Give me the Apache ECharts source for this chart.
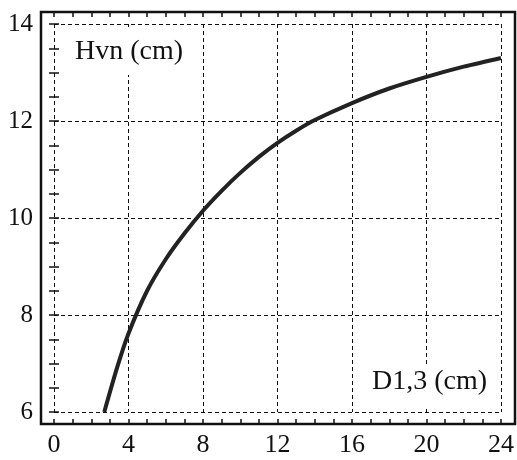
<!DOCTYPE html>
<html>
<head>
<meta charset="utf-8">
<script src="https://cdn.jsdelivr.net/npm/echarts@6/dist/echarts.min.js"></script>
<style>
  html, body { margin: 0; padding: 0; background: #fff; }
  #chart { width: 517px; height: 460px; }
</style>
</head>
<body>
<div id="chart"></div>
<script>
  "use strict";

  // diameter D1,3 (cm) and height Hvn (cm)
  var diameters = [2.7, 3.4, 4, 5, 6, 7, 8, 9, 10, 11, 12, 13, 14, 16, 18, 20, 22, 24];
  var heights = [6.0, 6.93, 7.62, 8.5, 9.15, 9.68, 10.15, 10.56, 10.93, 11.26, 11.55, 11.8, 12.02, 12.37, 12.67, 12.91, 13.12, 13.3];

  var xTicks = [0, 4, 8, 12, 16, 20, 24];
  var yTicks = [6, 8, 10, 12, 14];

  var yTitle = 'Hvn (cm)';
  var xTitle = 'D1,3 (cm)';

  (function (echarts) {
    var FONT = '"Liberation Serif", "Times New Roman", serif'
      , INK = '#111'
      , element = document.getElementById('chart');

    var points = diameters.map(function (d, i) {
      return [d, heights[i]];
    });

    function tickAxis(position, range, step, offset, labels, fontSize) {
      return {
        type: 'value',
        position: position,
        min: range[0],
        max: range[range.length - 1],
        interval: step,
        offset: offset,
        axisLine: { show: false },
        axisTick: { show: true, inside: true, length: 5, lineStyle: { color: INK, width: 1.5 } },
        minorTick: { show: true, splitNumber: 4, length: 5, lineStyle: { color: INK, width: 1.5 } },
        axisLabel: {
          show: labels,
          margin: 8,
          color: INK,
          fontFamily: FONT,
          fontSize: fontSize
        },
        splitLine: {
          show: labels,
          lineStyle: { color: INK, width: 1, type: [4, 3] }
        }
      };
    }

    var instance = echarts.init(element, null, { renderer: 'canvas' });

    instance.setOption({
      animation: false,
      backgroundColor: '#fff',
      grid: { left: 54, right: 13, top: 24, bottom: 48 },
      xAxis: [
        tickAxis('bottom', xTicks, 4, 12, true, 26),
        tickAxis('top', xTicks, 4, 12, false, 26)
      ],
      yAxis: [
        tickAxis('left', yTicks, 2, 13, true, 25),
        tickAxis('right', yTicks, 2, 11, false, 25)
      ],
      graphic: [
        {
          type: 'rect',
          z: 100,
          shape: { x: 41, y: 12, width: 474, height: 412 },
          style: { fill: null, stroke: INK, lineWidth: 2.5 }
        },
        {
          type: 'text',
          z: 50,
          x: 65,
          y: 27,
          style: {
            text: yTitle,
            font: '28px ' + FONT,
            fill: INK,
            backgroundColor: '#fff',
            padding: [11, 10, 9, 10]
          }
        },
        {
          type: 'text',
          z: 50,
          x: 364,
          y: 366,
          style: {
            text: xTitle,
            font: '28px ' + FONT,
            fill: INK,
            backgroundColor: '#fff',
            padding: [2, 8, 10, 8]
          }
        }
      ],
      series: [{
        type: 'line',
        data: points,
        smooth: 0.3,
        showSymbol: false,
        clip: false,
        z: 10,
        lineStyle: { color: '#222', width: 4 }
      }]
    });
  })(echarts);
</script>
</body>
</html>
